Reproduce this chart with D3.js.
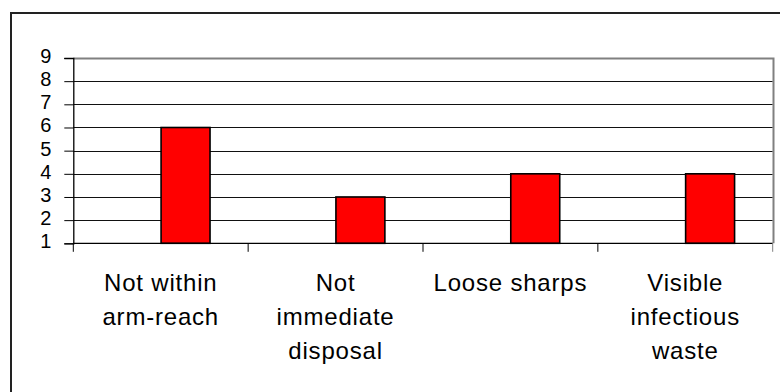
<!DOCTYPE html>
<html>
<head>
<meta charset="utf-8">
<script src="https://cdn.jsdelivr.net/npm/d3@7"></script>
<style>
  html, body { margin: 0; padding: 0; background: #fff; }
  svg { display: block; }
  text { font-family: "Liberation Sans", Arial, sans-serif; fill: #000; }
</style>
</head>
<body>
<svg id="chart" width="780" height="392"></svg>
<script>
// Categories (each entry split into its display lines) and counts
const categories = ["Not within arm-reach", "Not immediate disposal", "Loose sharps", "Visible infectious waste"];
const categoryLines = [["Not within", "arm-reach"], ["Not", "immediate", "disposal"], ["Loose sharps"], ["Visible", "infectious", "waste"]];
const values = [6, 3, 4, 4];
const yTicks = [1, 2, 3, 4, 5, 6, 7, 8, 9];

const svg = d3.select("#chart");
const W = 780, H = 392;

// Outer frame (runs off the right and bottom edges)
svg.append("rect")
  .attr("x", 11).attr("y", 13)
  .attr("width", W).attr("height", H)
  .attr("fill", "none").attr("stroke", "#222").attr("stroke-width", 2);

const plot = { left: 73.3, right: 772.7, top: 58, bottom: 243.3 };

const x = d3.scaleBand().domain(categories).range([plot.left, plot.right]).padding(0);
const y = d3.scaleLinear().domain([1, 9]).range([plot.bottom, plot.top]);

// Horizontal gridlines
svg.append("g")
  .selectAll("line")
  .data(yTicks.filter(t => t > 1 && t < 9))
  .join("line")
  .attr("x1", plot.left).attr("x2", plot.right)
  .attr("y1", d => Math.round(y(d)) + 0.5).attr("y2", d => Math.round(y(d)) + 0.5)
  .attr("stroke", "#111").attr("stroke-width", 1);

// Plot area border on top and right
svg.append("path")
  .attr("d", `M${plot.left},${Math.round(plot.top) + 0.5}H${Math.round(plot.right) + 0.5}V${plot.bottom}`)
  .attr("fill", "none").attr("stroke", "#808080").attr("stroke-width", 2);

// Bars, rising from the axis minimum
svg.append("g")
  .selectAll("rect")
  .data(values)
  .join("rect")
  .attr("x", (d, i) => x(categories[i]) + x.bandwidth() * 0.502)
  .attr("width", x.bandwidth() * 0.28)
  .attr("y", d => y(d))
  .attr("height", d => y(1) - y(d))
  .attr("fill", "#ff0000")
  .attr("stroke", "#000")
  .attr("stroke-width", 1.6);

// Y axis
const yAxis = svg.append("g")
  .attr("transform", `translate(${plot.left},0)`)
  .call(d3.axisLeft(y).tickValues(yTicks).tickSize(9).tickPadding(13).tickFormat(d3.format("d")));
yAxis.select(".domain").attr("stroke", "#000").attr("stroke-width", 1.3);
yAxis.selectAll(".tick line").attr("stroke", "#000");
yAxis.selectAll(".tick text")
  .attr("font-size", 20)
  .attr("dy", "0.22em")
  .attr("font-family", "Liberation Sans, Arial, sans-serif")
  .attr("fill", "#000");

// X axis line with ticks at category boundaries
const bounds = categories.map(c => x(c)).concat([plot.right]);
svg.append("line")
  .attr("x1", plot.left).attr("x2", plot.right)
  .attr("y1", plot.bottom).attr("y2", plot.bottom)
  .attr("stroke", "#000").attr("stroke-width", 1.3);
svg.append("g")
  .selectAll("line")
  .data(bounds)
  .join("line")
  .attr("x1", d => d).attr("x2", d => d)
  .attr("y1", plot.bottom).attr("y2", plot.bottom + 8.5)
  .attr("stroke", (d, i) => i === bounds.length - 1 ? "#808080" : "#000")
  .attr("stroke-width", 1);

// Category labels
const labels = svg.append("g");
categories.forEach((c, i) => {
  const t = labels.append("text")
    .attr("text-anchor", "middle")
    .attr("font-size", 24)
    .attr("letter-spacing", 0.8)
    .attr("y", 290.5);
  categoryLines[i].forEach((line, j) => {
    t.append("tspan")
      .attr("x", x(c) + x.bandwidth() / 2)
      .attr("dy", j === 0 ? 0 : 34)
      .text(line);
  });
});
</script>
</body>
</html>
